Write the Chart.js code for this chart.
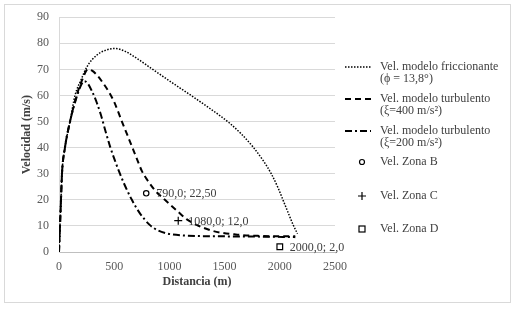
<!DOCTYPE html>
<html>
<head>
<meta charset="utf-8">
<script src="https://cdn.jsdelivr.net/npm/chart.js@4.4.0/dist/chart.umd.min.js"></script>
<style>
  html, body { margin: 0; padding: 0; background: #fff; }
  #wrap { width: 518px; height: 309px; position: relative; }
</style>
</head>
<body>
<div id="wrap"><canvas id="chart" width="518" height="309"></canvas></div>
<script>
// Vel. modelo friccionante (phi = 13,8)
const friccDist = [0, 9, 18, 27, 54, 100, 145, 200, 253, 343, 420, 507, 600, 706, 832, 1000, 1190, 1367, 1450, 1548, 1650, 1757, 1850, 1925, 1985, 2035, 2080, 2120, 2160];
const friccVel  = [0, 10, 20, 30, 40, 50, 60, 66, 71, 75.5, 77.3, 78, 76.9, 74.2, 70.5, 65.6, 60.2, 55, 52.5, 49.3, 45.3, 40.3, 35, 29.8, 24.5, 19.3, 14.6, 10.5, 7];

// Vel. modelo turbulento (xi = 400)
const turb400Dist = [0, 9, 18, 27, 54, 100, 160, 210, 262, 300, 350, 400, 450, 500, 570, 665, 710, 751, 800, 870, 959, 1077, 1155, 1246, 1400, 1600, 1800, 2000, 2140];
const turb400Vel  = [0, 10, 20, 30, 40, 50, 60, 66, 70, 69.5, 67.5, 64.7, 61.5, 57.5, 50, 40, 35.2, 31, 27.6, 23.6, 20, 15.5, 12.6, 10.4, 8, 6.7, 6.2, 6, 6];

// Vel. modelo turbulento (xi = 200)
const turb200Dist = [0, 9, 18, 27, 54, 100, 150, 200, 230, 262, 300, 340, 380, 420, 462, 507, 552, 600, 660, 730, 824, 900, 977, 1100, 1500, 1800, 2140];
const turb200Vel  = [0, 10, 20, 30, 40, 50, 58, 64, 65.5, 64.5, 61.5, 57.5, 52.5, 46.5, 40.5, 35, 30, 25.2, 20, 15, 10.3, 8.2, 7.1, 6.4, 6, 5.9, 5.7];

// Zonas medidas
const zonaB = [790, 22.5];
const zonaC = [1080, 12];
const zonaD = [2000, 2];
const zonaLabels = ['790,0; 22,50', '1080,0; 12,0', '2000,0; 2,0'];

const xTicks = [0, 500, 1000, 1500, 2000, 2500];
const yTicks = [0, 10, 20, 30, 40, 50, 60, 70, 80, 90];

function toPoints(xs, ys) {
    return xs.map((x, i) => ({ x: x, y: ys[i] }));
}

const serif = '"Liberation Serif", "Times New Roman", serif';

const legendItems = [
    { kind: 'line', dash: [1.5, 1.5], width: 1.5, lines: ['Vel. modelo friccionante', '(\u03d5 = 13,8\u00b0)'], y: 67 },
    { kind: 'line', dash: [6, 4], width: 2, lines: ['Vel. modelo turbulento', '(\u03be=400 m/s\u00b2)'], y: 99 },
    { kind: 'line', dash: [7, 3, 2, 3], width: 2, lines: ['Vel. modelo turbulento', '(\u03be=200 m/s\u00b2)'], y: 131 },
    { kind: 'circle', lines: ['Vel. Zona B'], y: 162 },
    { kind: 'cross', lines: ['Vel. Zona C'], y: 196 },
    { kind: 'rect', lines: ['Vel. Zona D'], y: 229 }
];

const framePlugin = {
    id: 'frame',
    beforeDraw(chart) {
        const ctx = chart.ctx;
        ctx.save();
        ctx.fillStyle = '#fff';
        ctx.fillRect(0, 0, chart.width, chart.height);
        ctx.strokeStyle = '#d9d9d9';
        ctx.lineWidth = 1;
        ctx.strokeRect(4.5, 4.5, 506, 298);
        ctx.restore();
    }
};

const extrasPlugin = {
    id: 'extras',
    afterDatasetsDraw(chart) {
        const ctx = chart.ctx;
        ctx.save();
        ctx.font = '12px ' + serif;
        ctx.fillStyle = '#404040';
        ctx.textBaseline = 'middle';
        ctx.textAlign = 'left';
        [3, 4, 5].forEach((di, k) => {
            const pt = chart.getDatasetMeta(di).data[0];
            ctx.fillText(zonaLabels[k], pt.x + 10, pt.y + 1);
        });

        // legend
        const sx = 345, ex = 371, tx = 380;
        legendItems.forEach(item => {
            ctx.strokeStyle = '#000';
            if (item.kind === 'line') {
                ctx.lineWidth = item.width;
                ctx.setLineDash(item.dash);
                ctx.beginPath();
                ctx.moveTo(sx, item.y);
                ctx.lineTo(ex, item.y);
                ctx.stroke();
                ctx.setLineDash([]);
            } else if (item.kind === 'circle') {
                ctx.lineWidth = 1.2;
                ctx.beginPath();
                ctx.arc(362, item.y, 2.5, 0, Math.PI * 2);
                ctx.stroke();
            } else if (item.kind === 'cross') {
                ctx.lineWidth = 1.2;
                ctx.beginPath();
                ctx.moveTo(358, item.y); ctx.lineTo(366, item.y);
                ctx.moveTo(362, item.y - 4); ctx.lineTo(362, item.y + 4);
                ctx.stroke();
            } else {
                ctx.lineWidth = 1.2;
                ctx.strokeRect(359, item.y - 3, 6, 6);
            }
            ctx.fillStyle = '#404040';
            item.lines.forEach((t, j) => ctx.fillText(t, tx, item.y + j * 12));
        });
        ctx.restore();
    }
};

const lineDefaults = {
    showLine: true,
    borderColor: '#000',
    pointRadius: 0,
    cubicInterpolationMode: 'monotone'
};

const ctx = document.getElementById('chart').getContext('2d');
new Chart(ctx, {
    type: 'scatter',
    data: {
        datasets: [
            Object.assign({
                label: 'Vel. modelo friccionante',
                data: toPoints(friccDist, friccVel),
                borderWidth: 1.5,
                borderDash: [1.5, 1.5]
            }, lineDefaults),
            Object.assign({
                label: 'Vel. modelo turbulento (400)',
                data: toPoints(turb400Dist, turb400Vel),
                borderWidth: 2,
                borderDash: [6, 4]
            }, lineDefaults),
            Object.assign({
                label: 'Vel. modelo turbulento (200)',
                data: toPoints(turb200Dist, turb200Vel),
                borderWidth: 2,
                borderDash: [7, 3, 2, 3]
            }, lineDefaults),
            {
                label: 'Vel. Zona B',
                data: [{ x: zonaB[0], y: zonaB[1] }],
                pointStyle: 'circle',
                pointRadius: 2.7,
                borderColor: '#000',
                backgroundColor: '#fff',
                borderWidth: 1.2
            },
            {
                label: 'Vel. Zona C',
                data: [{ x: zonaC[0], y: zonaC[1] }],
                pointStyle: 'cross',
                pointRadius: 4,
                borderColor: '#000',
                borderWidth: 1.2
            },
            {
                label: 'Vel. Zona D',
                data: [{ x: zonaD[0], y: zonaD[1] }],
                pointStyle: 'rect',
                pointRadius: 4,
                borderColor: '#000',
                backgroundColor: '#fff',
                borderWidth: 1.2
            }
        ]
    },
    options: {
        responsive: false,
        animation: false,
        layout: { padding: { left: 20, right: 183, top: 17, bottom: 20 } },
        plugins: {
            legend: { display: false },
            tooltip: { enabled: false }
        },
        scales: {
            x: {
                type: 'linear',
                min: 0,
                max: 2500,
                afterBuildTicks: scale => { scale.ticks = xTicks.map(v => ({ value: v })); },
                afterFit: scale => { scale.height = 37; },
                grid: { display: false, drawTicks: false },
                border: { display: true, color: '#bfbfbf', width: 1 },
                ticks: {
                    color: '#595959', padding: 8, maxRotation: 0,
                    font: { family: serif, size: 12 },
                    callback: v => String(v)
                },
                title: {
                    display: true,
                    text: 'Distancia (m)',
                    color: '#404040',
                    padding: 0,
                    font: { family: serif, size: 12, weight: 'bold' }
                }
            },
            y: {
                min: 0,
                max: 90,
                afterBuildTicks: scale => { scale.ticks = yTicks.map(v => ({ value: v })); },
                afterFit: scale => { scale.width = 39; },
                grid: { color: '#d9d9d9', drawTicks: false },
                border: { display: true, color: '#d9d9d9', width: 1 },
                ticks: {
                    color: '#595959', padding: 10,
                    font: { family: serif, size: 12 },
                    callback: v => String(v)
                },
                title: {
                    display: true,
                    text: 'Velocidad (m/s)',
                    color: '#404040',
                    padding: 0,
                    font: { family: serif, size: 12, weight: 'bold' }
                }
            }
        }
    },
    plugins: [framePlugin, extrasPlugin]
});
</script>
</body>
</html>
